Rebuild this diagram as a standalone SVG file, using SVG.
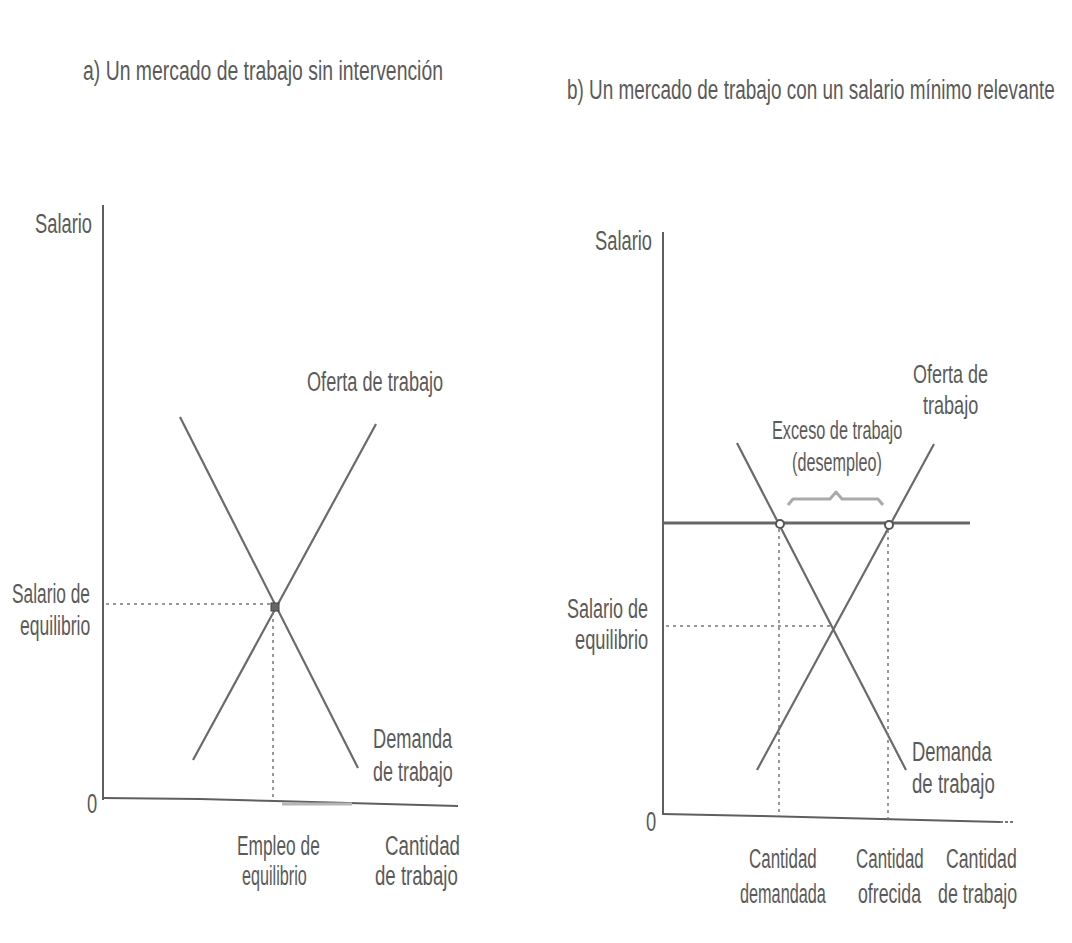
<svg xmlns="http://www.w3.org/2000/svg" width="1072" height="943" viewBox="0 0 1072 943">
<style>
.t{font-family:"Liberation Sans","Arial",sans-serif;font-size:28px;fill:#5a5a5a;}
.s{font-size:26px;}
.ax{stroke:#5f5f5f;stroke-width:2;fill:none;}
.cv{stroke:#6a6a6a;stroke-width:2.2;fill:none;}
.dot{stroke:#777;stroke-width:1.5;stroke-dasharray:3 4;fill:none;}
.mw{stroke:#666;stroke-width:3;fill:none;}
.br{stroke:#aaa;stroke-width:3;fill:none;stroke-linejoin:round;}
.pt{stroke:#555;stroke-width:2;fill:#fff;}
</style>
<rect x="0" y="0" width="1072" height="943" fill="#ffffff"/>

<g id="titles">
<text class="t" transform="translate(83,80) scale(0.6,1)" textLength="600" lengthAdjust="spacingAndGlyphs">a) Un mercado de trabajo sin intervención</text>
<text class="t" transform="translate(567,99) scale(0.6,1)" textLength="813" lengthAdjust="spacingAndGlyphs">b) Un mercado de trabajo con un salario mínimo relevante</text>
</g>

<g id="connectors">
<g id="left-axes">
<line class="ax" x1="103" y1="205" x2="103" y2="800"/>
<polyline class="ax" points="103,798 200,799 275,801 458,806"/>
<line x1="282" y1="804" x2="352" y2="804" stroke="#b5b5b5" stroke-width="3"/>
</g>
<line id="left-demand" class="cv" x1="180" y1="417" x2="358" y2="768"/>
<line id="left-supply" class="cv" x1="376" y1="424" x2="193" y2="760"/>
<line class="dot" x1="106" y1="604" x2="270" y2="604"/>
<line class="dot" x1="273" y1="612" x2="273" y2="798"/>

<g id="right-axes">
<line class="ax" x1="663" y1="232" x2="663" y2="815"/>
<polyline class="ax" points="663,814 760,816 1000,822"/>
<line x1="1000" y1="822" x2="1015" y2="822" stroke="#777" stroke-width="2" stroke-dasharray="3 2"/>
</g>
<line id="min-wage" class="mw" x1="663" y1="523" x2="970" y2="523"/>
<line id="right-demand" class="cv" x1="737" y1="443" x2="906" y2="770"/>
<line id="right-supply" class="cv" x1="934" y1="444" x2="757" y2="770"/>
<line class="dot" x1="666" y1="626" x2="835" y2="626"/>
<line class="dot" x1="779" y1="529" x2="779" y2="815"/>
<line class="dot" x1="888" y1="530" x2="888" y2="818"/>
<path id="brace" class="br" d="M788,505 L793,499 L830,499 L836,492 L842,499 L878,499 L883,505"/>
</g>

<g id="left-equilibrium">
<rect x="271" y="603" width="8" height="8" fill="#666" stroke="#444" stroke-width="1"/>
</g>
<g id="right-points">
<circle class="pt" cx="780" cy="524" r="4"/>
<circle class="pt" cx="889" cy="525" r="4"/>
</g>

<g id="left-labels">
<text class="t" transform="translate(35,233) scale(0.6,1)" textLength="95" lengthAdjust="spacingAndGlyphs">Salario</text>
<text class="t" transform="translate(307,391) scale(0.6,1)" textLength="227" lengthAdjust="spacingAndGlyphs">Oferta de trabajo</text>
<text class="t" transform="translate(12,603) scale(0.6,1)" textLength="130" lengthAdjust="spacingAndGlyphs">Salario de</text>
<text class="t" transform="translate(20,635) scale(0.6,1)" textLength="117" lengthAdjust="spacingAndGlyphs">equilibrio</text>
<text class="t" transform="translate(373,748) scale(0.6,1)" textLength="132" lengthAdjust="spacingAndGlyphs">Demanda</text>
<text class="t" transform="translate(373,781) scale(0.6,1)" textLength="133" lengthAdjust="spacingAndGlyphs">de trabajo</text>
<text class="t" transform="translate(87,813) scale(0.6,1)" textLength="17" lengthAdjust="spacingAndGlyphs">0</text>
<text class="t" transform="translate(237,855) scale(0.6,1)" textLength="138" lengthAdjust="spacingAndGlyphs">Empleo de</text>
<text class="t" transform="translate(242,885) scale(0.6,1)" textLength="108" lengthAdjust="spacingAndGlyphs">equilibrio</text>
<text class="t" transform="translate(385,855) scale(0.6,1)" textLength="125" lengthAdjust="spacingAndGlyphs">Cantidad</text>
<text class="t" transform="translate(375,885) scale(0.6,1)" textLength="138" lengthAdjust="spacingAndGlyphs">de trabajo</text>
</g>

<g id="right-labels">
<text class="t" transform="translate(595,250) scale(0.6,1)" textLength="95" lengthAdjust="spacingAndGlyphs">Salario</text>
<text class="t s" transform="translate(913,383) scale(0.6,1)" textLength="125" lengthAdjust="spacingAndGlyphs">Oferta de</text>
<text class="t s" transform="translate(923,414) scale(0.6,1)" textLength="92" lengthAdjust="spacingAndGlyphs">trabajo</text>
<text class="t s" transform="translate(772,439) scale(0.6,1)" textLength="217" lengthAdjust="spacingAndGlyphs">Exceso de trabajo</text>
<text class="t s" transform="translate(792,471) scale(0.6,1)" textLength="150" lengthAdjust="spacingAndGlyphs">(desempleo)</text>
<text class="t" transform="translate(567,618) scale(0.6,1)" textLength="135" lengthAdjust="spacingAndGlyphs">Salario de</text>
<text class="t" transform="translate(575,649) scale(0.6,1)" textLength="122" lengthAdjust="spacingAndGlyphs">equilibrio</text>
<text class="t" transform="translate(912,761) scale(0.6,1)" textLength="133" lengthAdjust="spacingAndGlyphs">Demanda</text>
<text class="t" transform="translate(912,793) scale(0.6,1)" textLength="138" lengthAdjust="spacingAndGlyphs">de trabajo</text>
<text class="t" transform="translate(646,831) scale(0.6,1)" textLength="17" lengthAdjust="spacingAndGlyphs">0</text>
<text class="t" transform="translate(749,868) scale(0.6,1)" textLength="113" lengthAdjust="spacingAndGlyphs">Cantidad</text>
<text class="t" transform="translate(740,903) scale(0.6,1)" textLength="143" lengthAdjust="spacingAndGlyphs">demandada</text>
<text class="t" transform="translate(856,868) scale(0.6,1)" textLength="113" lengthAdjust="spacingAndGlyphs">Cantidad</text>
<text class="t" transform="translate(858,903) scale(0.6,1)" textLength="105" lengthAdjust="spacingAndGlyphs">ofrecida</text>
<text class="t" transform="translate(946,868) scale(0.6,1)" textLength="118" lengthAdjust="spacingAndGlyphs">Cantidad</text>
<text class="t" transform="translate(938,903) scale(0.6,1)" textLength="132" lengthAdjust="spacingAndGlyphs">de trabajo</text>
</g>
</svg>
